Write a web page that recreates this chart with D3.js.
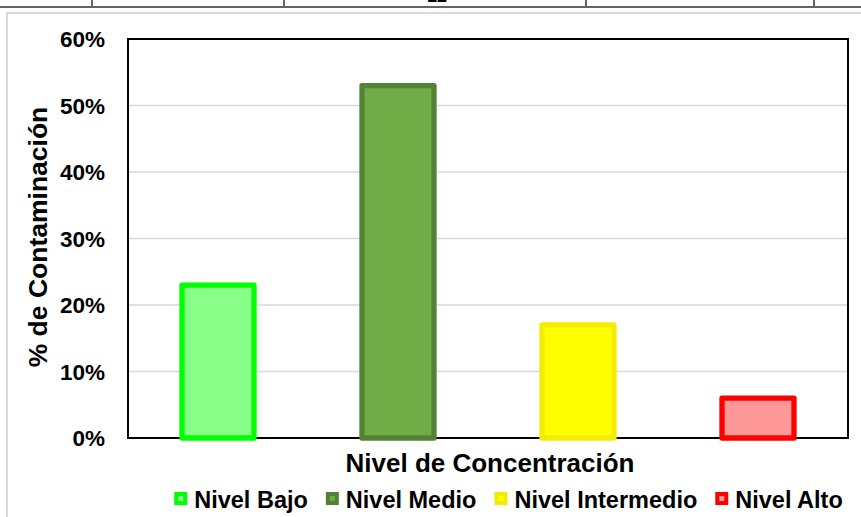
<!DOCTYPE html>
<html>
<head>
<meta charset="utf-8">
<script src="https://cdn.jsdelivr.net/npm/d3@7"></script>
<style>
  html, body { margin: 0; padding: 0; background: #fff; }
  svg { display: block; }
  text { font-family: "Liberation Sans", Arial, sans-serif; font-weight: bold; fill: #000; }
</style>
</head>
<body>
<svg id="chart" width="861" height="517"></svg>
<script>
// Concentration levels and share of contaminated samples
const categories = ["Nivel Bajo", "Nivel Medio", "Nivel Intermedio", "Nivel Alto"];
const values = [0.23, 0.53, 0.17, 0.06];
const fillColors = ["#88FF88", "#70AD47", "#FFFF00", "#FF9999"];
const strokeColors = ["#00FF00", "#548235", "#F2EC00", "#FF0000"];
const yTicks = [0, 0.1, 0.2, 0.3, 0.4, 0.5, 0.6];
const yTitle = "% de Contaminación";
const xTitle = "Nivel de Concentración";
const headerColumns = [92, 284, 586, 814];
const headerText = "12";

const svg = d3.select("#chart");
const W = 861, H = 517;
const plot = { left: 128, right: 848, top: 39, bottom: 438 };

// Table fragment above the chart
svg.append("line").attr("x1", 0).attr("x2", W).attr("y1", 7).attr("y2", 7)
  .attr("stroke", "#646464").attr("stroke-width", 2);
svg.selectAll("line.col").data(headerColumns).enter().append("line")
  .attr("class", "col")
  .attr("x1", d => d).attr("x2", d => d).attr("y1", 0).attr("y2", 7)
  .attr("stroke", "#646464").attr("stroke-width", 2);
svg.append("text").attr("x", 437).attr("y", 2)
  .attr("text-anchor", "middle").style("font-size", "18px").text(headerText);

// Chart area border
svg.append("rect").attr("x", 7).attr("y", 13).attr("width", W).attr("height", H)
  .attr("fill", "#fff").attr("stroke", "#d9d9d9").attr("stroke-width", 2);

const x = d3.scaleBand().domain(categories)
  .range([plot.left, plot.right]).paddingInner(0.6).paddingOuter(0.3);
const y = d3.scaleLinear().domain([0, 0.6]).range([plot.bottom, plot.top]);

// Gridlines
svg.append("g").selectAll("line").data(yTicks.filter(t => t > 0 && t < 0.6)).enter()
  .append("line")
  .attr("x1", plot.left).attr("x2", plot.right)
  .attr("y1", d => y(d)).attr("y2", d => y(d))
  .attr("stroke", "#d9d9d9").attr("stroke-width", 1.5);

// Plot frame
svg.append("rect").attr("x", plot.left).attr("y", plot.top)
  .attr("width", plot.right - plot.left).attr("height", plot.bottom - plot.top)
  .attr("fill", "none").attr("stroke", "#000").attr("stroke-width", 2);

// Bars
svg.append("g").selectAll("rect").data(values).enter().append("rect")
  .attr("x", (d, i) => x(categories[i]))
  .attr("y", d => y(d))
  .attr("width", x.bandwidth())
  .attr("height", d => y(0) - y(d))
  .attr("fill", (d, i) => fillColors[i])
  .attr("stroke", (d, i) => strokeColors[i])
  .attr("stroke-width", 5.3)
  .attr("stroke-linejoin", "round");

// Y tick labels
const fmt = d3.format(".0%");
svg.append("g").selectAll("text").data(yTicks).enter().append("text")
  .attr("x", 105)
  .attr("y", d => y(d) + 8)
  .attr("text-anchor", "end")
  .style("font-size", "22.5px")
  .text(d => fmt(d));

// Axis titles
svg.append("text")
  .attr("transform", "translate(490,472)")
  .attr("text-anchor", "middle").style("font-size", "26px").text(xTitle);
svg.append("text")
  .attr("transform", "translate(47,237) rotate(-90)")
  .attr("text-anchor", "middle").style("font-size", "26.5px").text(yTitle);

// Legend
const legend = svg.append("g");
const items = legend.selectAll("g").data(categories).enter().append("g");
items.append("rect")
  .attr("x", 2).attr("y", -14).attr("width", 9).attr("height", 9)
  .attr("fill", (d, i) => fillColors[i])
  .attr("stroke", (d, i) => strokeColors[i]).attr("stroke-width", 4);
items.append("text")
  .attr("x", 20)
  .style("font-size", "23.5px").text(d => d);
const GAP = 18;
let cx = 0;
const offsets = [];
items.each(function () {
  offsets.push(cx);
  const w = d3.select(this).select("text").node().getComputedTextLength();
  cx += 20 + w + GAP;
});
const total = cx - GAP;
const startX = (173 + 844) / 2 - total / 2;
items.attr("transform", (d, i) => `translate(${startX + offsets[i]},508)`);
</script>
</body>
</html>
